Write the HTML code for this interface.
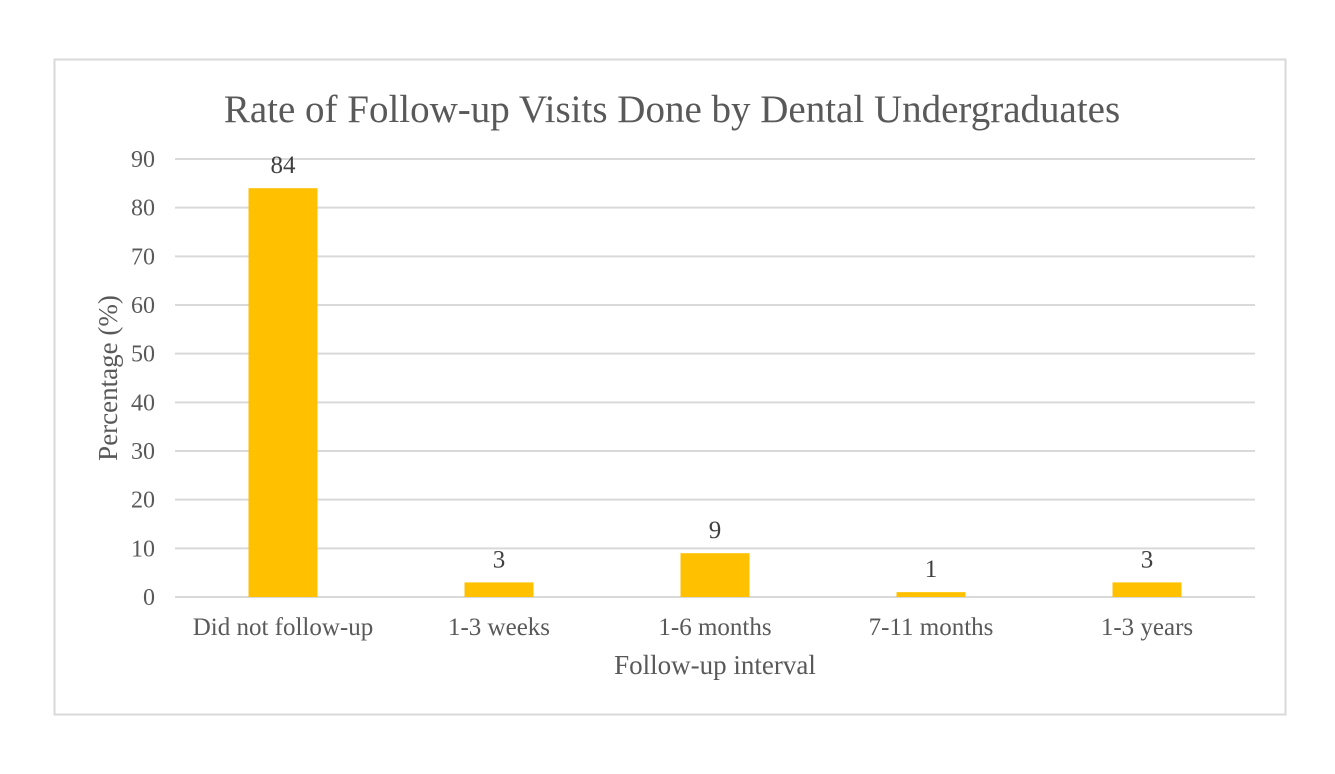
<!DOCTYPE html>
<html><head><meta charset="utf-8"><style>
body{margin:0;background:#fff;}
svg{display:block;font-family:"Liberation Serif",serif;}
</style></head><body>
<svg id="chart" width="1335" height="774">
<rect x="54.5" y="59.5" width="1231" height="655" fill="#fff" stroke="#d9d9d9" stroke-width="2"/>
<text x="672" y="122" text-anchor="middle" font-size="39" fill="#595959">Rate of Follow-up Visits Done by Dental Undergraduates</text>
<g id="grid"></g><g id="bars"></g><g id="labels"></g>
<text transform="translate(117,378) rotate(-90)" text-anchor="middle" font-size="27" fill="#595959">Percentage (%)</text>
<text x="715" y="674" text-anchor="middle" font-size="27" fill="#595959">Follow-up interval</text>
</svg>
<script>
const categories=["Did not follow-up","1-3 weeks","1-6 months","7-11 months","1-3 years"];
const values=[84,3,9,1,3];
const ticks=[0,10,20,30,40,50,60,70,80,90];
const NS="http://www.w3.org/2000/svg";
const x0=175,x1=1255,y0=597,yTop=159,maxV=90;
const y=v=>y0-(v/maxV)*(y0-yTop);
const band=(x1-x0)/categories.length;
const xc=i=>x0+band*(i+0.5);
function mk(t,a,p){const e=document.createElementNS(NS,t);for(const k in a)e.setAttribute(k,a[k]);p.appendChild(e);return e;}
const grid=document.getElementById('grid'),bars=document.getElementById('bars'),labels=document.getElementById('labels');
ticks.forEach(t=>{
 const l=mk('line',{x1:x0,x2:x1,y1:y(t),y2:y(t),stroke:'#d9d9d9','stroke-width':2},grid);
 
 
 const tx=mk('text',{x:155,y:y(t)+8,'text-anchor':'end','font-size':24,fill:'#595959'},grid);
 tx.textContent=t;
 
 
});
const bw=69;
categories.forEach((c,i)=>{
 const r=mk('rect',{x:xc(i)-bw/2,y:y(values[i]),width:bw,height:y0-y(values[i]),fill:'#ffc000'},bars);
 
 
 const v=mk('text',{x:xc(i),y:y(values[i])-15,'text-anchor':'middle','font-size':25,fill:'#404040'},labels);
 v.textContent=values[i];
 
 
 const t=mk('text',{x:xc(i),y:635,'text-anchor':'middle','font-size':25,fill:'#595959'},labels);
 t.textContent=c;
 
 
});
</script>
</body></html>
